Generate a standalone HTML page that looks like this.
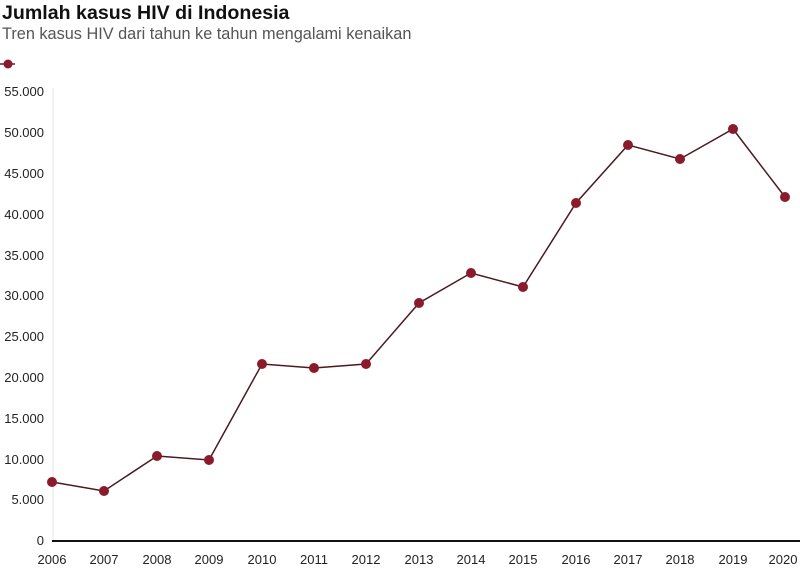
<!DOCTYPE html>
<html><head><meta charset="utf-8"><style>
body{margin:0;background:#fff;width:800px;height:579px;overflow:hidden;font-family:"Liberation Sans",sans-serif}
</style></head><body>
<svg width="800" height="579" xmlns="http://www.w3.org/2000/svg" font-family="Liberation Sans, sans-serif">
<text x="2" y="19" font-size="19.6" font-weight="bold" fill="#111">Jumlah kasus HIV di Indonesia</text>
<text x="2" y="39" font-size="16.3" fill="#555">Tren kasus HIV dari tahun ke tahun mengalami kenaikan</text>
<line x1="0" y1="64" x2="15" y2="64" stroke="#6b1a25" stroke-width="1.5"/>
<circle cx="8" cy="64" r="4.5" fill="#8b1a2b"/>
<line x1="53" y1="88" x2="53" y2="541" stroke="#e6e6e6" stroke-width="1"/>
<g font-size="13" fill="#222" text-anchor="end">
<text x="44" y="96">55.000</text><text x="44" y="137">50.000</text><text x="44" y="178">45.000</text>
<text x="44" y="219">40.000</text><text x="44" y="300">30.000</text><text x="44" y="260">35.000</text>
<text x="44" y="341">25.000</text><text x="44" y="382">20.000</text><text x="44" y="423">15.000</text>
<text x="44" y="464">10.000</text><text x="44" y="504">5.000</text><text x="44" y="545">0</text>
</g>
<line x1="52" y1="541" x2="800" y2="541" stroke="#111" stroke-width="2"/>
<g font-size="13" fill="#222" text-anchor="middle">
<text x="52" y="564">2006</text><text x="104" y="564">2007</text><text x="157" y="564">2008</text>
<text x="209" y="564">2009</text><text x="262" y="564">2010</text><text x="314" y="564">2011</text>
<text x="366" y="564">2012</text><text x="419" y="564">2013</text><text x="471" y="564">2014</text>
<text x="523" y="564">2015</text><text x="576" y="564">2016</text><text x="628" y="564">2017</text>
<text x="680" y="564">2018</text><text x="733" y="564">2019</text><text x="783" y="564">2020</text>
</g>
<polyline fill="none" stroke="#4a1a20" stroke-width="1.5" points="52,482 104,491 157,456 209,460 262,364 314,368 366,364 419,303 471,273 523,287 576,203 628,145 680,159 733,129 785,197"/>
<g fill="#8b1a2b">
<circle cx="52" cy="482" r="5"/><circle cx="104" cy="491" r="5"/><circle cx="157" cy="456" r="5"/>
<circle cx="209" cy="460" r="5"/><circle cx="262" cy="364" r="5"/><circle cx="314" cy="368" r="5"/>
<circle cx="366" cy="364" r="5"/><circle cx="419" cy="303" r="5"/><circle cx="471" cy="273" r="5"/>
<circle cx="523" cy="287" r="5"/><circle cx="576" cy="203" r="5"/><circle cx="628" cy="145" r="5"/>
<circle cx="680" cy="159" r="5"/><circle cx="733" cy="129" r="5"/><circle cx="785" cy="197" r="5"/>
</g>
</svg>
</body></html>
